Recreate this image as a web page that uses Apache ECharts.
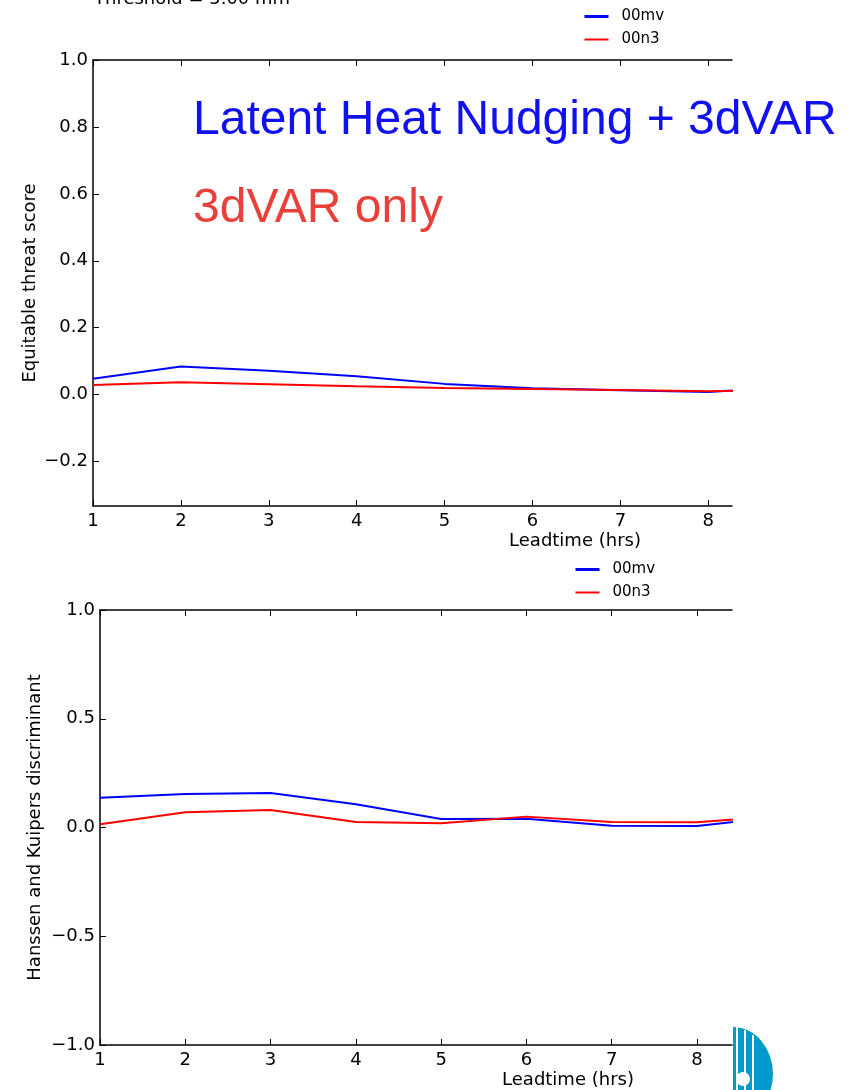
<!DOCTYPE html>
<html>
<head>
<meta charset="utf-8">
<script src="https://cdn.jsdelivr.net/npm/echarts@6/dist/echarts.min.js"></script>
<style>
  html, body { margin: 0; padding: 0; background: #ffffff; }
  #chart { width: 855px; height: 1090px; }
</style>
</head>
<body>
<div id="chart"></div>
<script>
// Lead times (hours)
const leadtime = [1, 2, 3, 4, 5, 6, 7, 8, 9];

// Equitable threat score
const etsMv = [0.047, 0.084, 0.071, 0.055, 0.032, 0.019, 0.013, 0.008, 0.022];
const etsN3 = [0.029, 0.037, 0.031, 0.025, 0.020, 0.017, 0.014, 0.010, 0.014];

// Hanssen and Kuipers discriminant
const hkMv = [0.137, 0.154, 0.159, 0.107, 0.039, 0.040, 0.008, 0.007, 0.050];
const hkN3 = [0.015, 0.070, 0.080, 0.025, 0.019, 0.050, 0.025, 0.024, 0.053];

// Tick labels
const xTicks = [1, 2, 3, 4, 5, 6, 7, 8];
const etsTicks = [-0.2, 0.0, 0.2, 0.4, 0.6, 0.8, 1.0];
const hkTicks = [-1.0, -0.5, 0.0, 0.5, 1.0];

const seriesNames = ['00mv', '00n3'];
const blue = '#0000ff';
const red = '#ff0000';
const font = 'DejaVu Sans';

const pairs = (xs, ys) => xs.map((x, i) => [x, ys[i]]);
const fmt = v => (v < 0 ? '\u2212' : '') + Math.abs(v).toFixed(1);

const chart = echarts.init(document.getElementById('chart'), null, { renderer: 'canvas' });

const axisLine = { show: true, onZero: false, lineStyle: { color: '#000', width: 1.5 } };
const tickStyle = (vals) => ({ show: true, inside: true, length: 6, customValues: vals, lineStyle: { color: '#000', width: 1 } });

function bottomX(grid, max) {
  return {
    type: 'value', gridIndex: grid, position: 'bottom', min: 1, max: max,
    axisLine: axisLine, axisTick: tickStyle(xTicks), splitLine: { show: false },
    axisLabel: { customValues: xTicks, margin: 6, color: '#000', fontFamily: font, fontSize: 18 }
  };
}
function topX(grid, max) {
  return {
    type: 'value', gridIndex: grid, position: 'top', min: 1, max: max,
    axisLine: axisLine, axisTick: tickStyle(xTicks), splitLine: { show: false },
    axisLabel: { show: false }
  };
}
function leftY(grid, min, max, ticks, name, gap) {
  return {
    type: 'value', gridIndex: grid, position: 'left', min: min, max: max,
    name: name, nameLocation: 'middle', nameGap: gap, nameRotate: 90, nameMoveOverlap: false,
    nameTextStyle: { color: '#000', fontFamily: font, fontSize: 18 },
    axisLine: axisLine, axisTick: tickStyle(ticks), splitLine: { show: false },
    axisLabel: { customValues: ticks, formatter: fmt, margin: 5, color: '#000', fontFamily: font, fontSize: 18 }
  };
}
function lineSeries(name, data, color, xi, yi) {
  return {
    type: 'line', name: name, data: data, xAxisIndex: xi, yAxisIndex: yi,
    symbol: 'none', clip: true, lineStyle: { color: color, width: 2 },
    itemStyle: { color: color }
  };
}
function legendAt(left, top) {
  return {
    orient: 'vertical', left: left, top: top, itemWidth: 24, itemHeight: 14, itemGap: 8,
    selectedMode: false,
    itemStyle: { opacity: 0 },
    textStyle: { color: '#000', fontFamily: font, fontSize: 15, padding: [0, 0, 0, 8] },
    data: [
      { name: seriesNames[0], lineStyle: { width: 3, color: blue } },
      { name: seriesNames[1], lineStyle: { width: 2, color: red } }
    ]
  };
}

const option = {
  animation: false,
  backgroundColor: '#ffffff',
  grid: [
    { left: 93, top: 60, width: 639, height: 446 },
    { left: 100, top: 610, width: 632, height: 435 }
  ],
  legend: [legendAt(578, 4), legendAt(569, 557)],
  xAxis: [bottomX(0, 8.27), topX(0, 8.27), bottomX(1, 8.41), topX(1, 8.41)],
  yAxis: [
    leftY(0, -0.333, 1.0, etsTicks, 'Equitable threat score', 54),
    leftY(1, -1.0, 1.0, hkTicks, 'Hanssen and Kuipers discriminant', 56)
  ],
  series: [
    lineSeries(seriesNames[0], pairs(leadtime, etsMv), blue, 0, 0),
    lineSeries(seriesNames[1], pairs(leadtime, etsN3), red, 0, 0),
    lineSeries(seriesNames[0], pairs(leadtime, hkMv), blue, 2, 1),
    lineSeries(seriesNames[1], pairs(leadtime, hkN3), red, 2, 1)
  ],
  graphic: [
    { type: 'text', left: 94, top: -10, style: { text: 'Threshold = 5.00 mm', fill: '#000', font: '18px "DejaVu Sans"' } },
    { type: 'text', x: 575, y: 541, style: { text: 'Leadtime (hrs)', fill: '#000', font: '18px "DejaVu Sans"', align: 'center', verticalAlign: 'middle' } },
    { type: 'text', x: 568, y: 1080, style: { text: 'Leadtime (hrs)', fill: '#000', font: '18px "DejaVu Sans"', align: 'center', verticalAlign: 'middle' } },
    { type: 'text', x: 193, y: 121, style: { text: 'Latent Heat Nudging + 3dVAR', fill: '#1010f0', font: '48px "Liberation Sans"', verticalAlign: 'middle' } },
    { type: 'text', x: 193, y: 209, style: { text: '3dVAR only', fill: '#e8413a', font: '48px "Liberation Sans"', verticalAlign: 'middle' } },
    // corner emblem
    {
      type: 'group', left: 733, top: 1027,
      children: [
        { type: 'sector', shape: { cx: 0, cy: 47, r0: 0, r: 47, startAngle: -Math.PI / 2, endAngle: Math.PI / 2 }, style: { fill: '#0099cc' }, scaleX: 0.85 },
        { type: 'rect', shape: { x: 3, y: 0, width: 2, height: 70 }, style: { fill: '#ffffff' } },
        { type: 'rect', shape: { x: 11, y: 3, width: 2, height: 70 }, style: { fill: '#ffffff' } },
        { type: 'rect', shape: { x: 19, y: 8, width: 2, height: 60 }, style: { fill: '#ffffff' } },
        { type: 'circle', shape: { cx: 10, cy: 52, r: 7 }, style: { fill: '#ffffff' } }
      ]
    }
  ]
};

chart.setOption(option);
</script>
</body>
</html>
